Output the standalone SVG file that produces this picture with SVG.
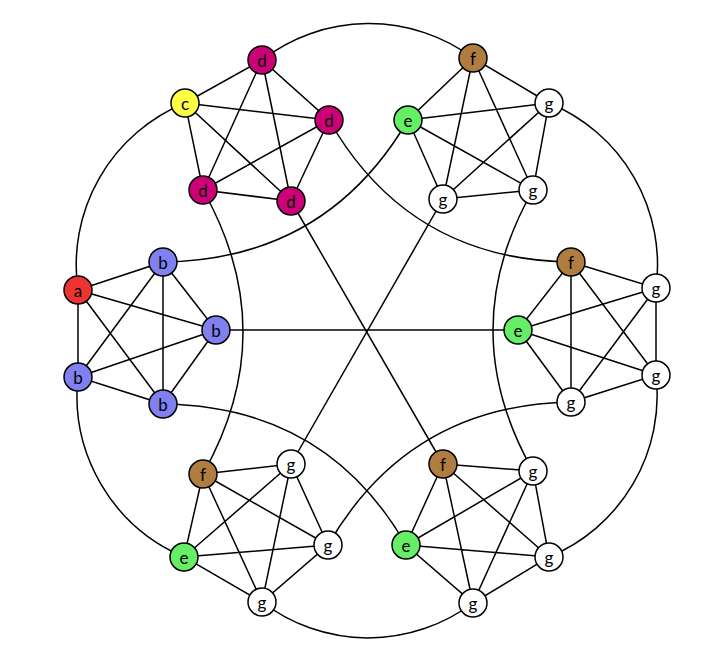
<svg xmlns="http://www.w3.org/2000/svg" width="717" height="657" viewBox="0 0 717 657">
<style>
.n circle{stroke:#000;stroke-width:1.5}
.n text{font-family:Lato,"Liberation Sans",sans-serif;font-size:17px;text-anchor:middle;dominant-baseline:central}
#edges path,#edges line{stroke:#000;stroke-width:1.5;fill:none}
.a{fill:#ee3333}.b{fill:#8080f0}.c{fill:#ffff44}.d{fill:#cc0077}.e{fill:#66ee66}.f{fill:#b07d40}.g{fill:#fff}
</style>
<rect width="717" height="657" fill="#fff"/>
<g id="edges">
<path d="M262,60 L185,103 L203,190 L291,201 L329,120 Z M262,60 L203,190 M262,60 L291,201 M185,103 L329,120 M185,103 L291,201 M203,190 L329,120"/>
<path d="M473,58 L408,120 L443,199 L533,190 L549,103 Z M473,58 L443,199 M473,58 L533,190 M408,120 L533,190 M408,120 L549,103 M443,199 L549,103"/>
<path d="M78,290 L163,262 L216,330 L163,404 L78,377 Z M78,290 L216,330 M78,290 L163,404 M163,262 L163,404 M163,262 L78,377 M216,330 L78,377"/>
<path d="M571,262 L656,288 L656,375 L571,402 L518,330 Z M571,262 L656,375 M571,262 L571,402 M656,288 L571,402 M656,288 L518,330 M656,375 L518,330"/>
<path d="M203,474 L291,464 L328,545 L262,602 L184,557 Z M203,474 L328,545 M203,474 L262,602 M291,464 L262,602 M291,464 L184,557 M328,545 L184,557"/>
<path d="M443,464 L533,471 L549,557 L473,603 L406,545 Z M443,464 L549,557 M443,464 L473,603 M533,471 L473,603 M533,471 L406,545 M549,557 L406,545"/>
<line x1="216" y1="330" x2="518" y2="330"/>
<line x1="291" y1="201" x2="443" y2="464"/>
<line x1="443" y1="199" x2="291" y2="464"/>
<path d="M329,120 Q409,260 571,262"/>
<path d="M408,120 Q326,260 163,262"/>
<path d="M203,190 Q283,332 203,474"/>
<path d="M533,190 Q453,330 533,471"/>
<path d="M163,404 Q326,406 406,545"/>
<path d="M328,545 Q409,405 571,402"/>
<path d="M262,60 A175,175 0 0 1 473,58"/>
<path d="M185,103 A175,175 0 0 0 78,290"/>
<path d="M78,377 A175,175 0 0 0 184,557"/>
<path d="M262,602 A175,175 0 0 0 473,603"/>
<path d="M549,557 A175,175 0 0 0 656,375"/>
<path d="M656,288 A175,175 0 0 0 549,103"/>
</g>
<g id="n1" class="n"><circle class="d" cx="262" cy="60" r="14"/><text x="262" y="60">d</text></g>
<g id="n2" class="n"><circle class="c" cx="185" cy="103" r="14"/><text x="185" y="103">c</text></g>
<g id="n3" class="n"><circle class="d" cx="329" cy="120" r="14"/><text x="329" y="120">d</text></g>
<g id="n4" class="n"><circle class="d" cx="203" cy="190" r="14"/><text x="203" y="190">d</text></g>
<g id="n5" class="n"><circle class="d" cx="291" cy="201" r="14"/><text x="291" y="201">d</text></g>
<g id="n6" class="n"><circle class="f" cx="473" cy="58" r="14"/><text x="473" y="58">f</text></g>
<g id="n7" class="n"><circle class="g" cx="549" cy="103" r="14"/><text x="549" y="103">g</text></g>
<g id="n8" class="n"><circle class="e" cx="408" cy="120" r="14"/><text x="408" y="120">e</text></g>
<g id="n9" class="n"><circle class="g" cx="443" cy="199" r="14"/><text x="443" y="199">g</text></g>
<g id="n10" class="n"><circle class="g" cx="533" cy="190" r="14"/><text x="533" y="190">g</text></g>
<g id="n11" class="n"><circle class="a" cx="78" cy="290" r="14"/><text x="78" y="290">a</text></g>
<g id="n12" class="n"><circle class="b" cx="163" cy="262" r="14"/><text x="163" y="262">b</text></g>
<g id="n13" class="n"><circle class="b" cx="216" cy="330" r="14"/><text x="216" y="330">b</text></g>
<g id="n14" class="n"><circle class="b" cx="78" cy="377" r="14"/><text x="78" y="377">b</text></g>
<g id="n15" class="n"><circle class="b" cx="163" cy="404" r="14"/><text x="163" y="404">b</text></g>
<g id="n16" class="n"><circle class="f" cx="571" cy="262" r="14"/><text x="571" y="262">f</text></g>
<g id="n17" class="n"><circle class="g" cx="656" cy="288" r="14"/><text x="656" y="288">g</text></g>
<g id="n18" class="n"><circle class="e" cx="518" cy="330" r="14"/><text x="518" y="330">e</text></g>
<g id="n19" class="n"><circle class="g" cx="656" cy="375" r="14"/><text x="656" y="375">g</text></g>
<g id="n20" class="n"><circle class="g" cx="571" cy="402" r="14"/><text x="571" y="402">g</text></g>
<g id="n21" class="n"><circle class="f" cx="203" cy="474" r="14"/><text x="203" y="474">f</text></g>
<g id="n22" class="n"><circle class="g" cx="291" cy="464" r="14"/><text x="291" y="464">g</text></g>
<g id="n23" class="n"><circle class="g" cx="328" cy="545" r="14"/><text x="328" y="545">g</text></g>
<g id="n24" class="n"><circle class="e" cx="184" cy="557" r="14"/><text x="184" y="557">e</text></g>
<g id="n25" class="n"><circle class="g" cx="262" cy="602" r="14"/><text x="262" y="602">g</text></g>
<g id="n26" class="n"><circle class="f" cx="443" cy="464" r="14"/><text x="443" y="464">f</text></g>
<g id="n27" class="n"><circle class="g" cx="533" cy="471" r="14"/><text x="533" y="471">g</text></g>
<g id="n28" class="n"><circle class="e" cx="406" cy="545" r="14"/><text x="406" y="545">e</text></g>
<g id="n29" class="n"><circle class="g" cx="549" cy="557" r="14"/><text x="549" y="557">g</text></g>
<g id="n30" class="n"><circle class="g" cx="473" cy="603" r="14"/><text x="473" y="603">g</text></g>
</svg>
